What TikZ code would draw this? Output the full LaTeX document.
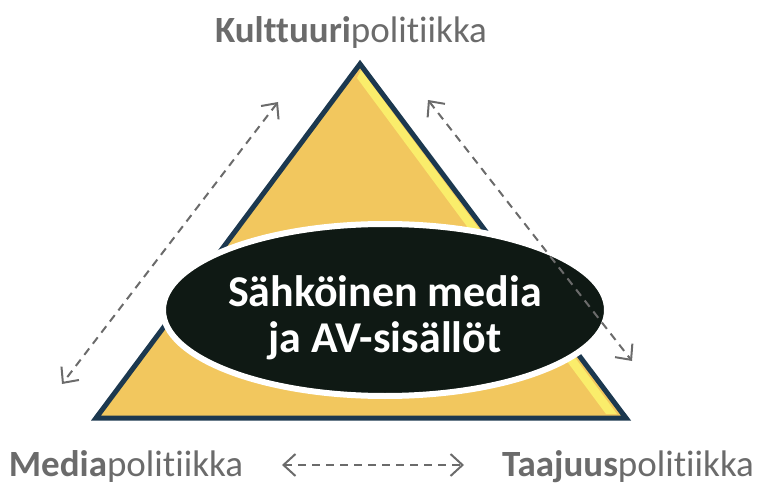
\documentclass[tikz,border=0pt]{standalone}
\usepackage{fontspec}
\setmainfont{Carlito}[Ligatures = NoCommon]
\usepackage{tikz}
\usetikzlibrary{arrows.meta}
\usetikzlibrary{shapes.geometric}
\tikzset{label/.style = {text = labelgray, inner sep = 0, anchor = base}}
\tikzset{relation/.style = {draw = arrowgray, line width = 2, dash pattern = on 8pt off 6pt, {Straight Barb[length=12pt, width=22pt]}-{Straight Barb[length=12pt, width=22pt]}}}
\definecolor{labelgray}{rgb}{0.42, 0.42, 0.42}
\definecolor{arrowgray}{rgb}{0.42, 0.42, 0.42}
\definecolor{mgold}{rgb}{0.95, 0.78, 0.37}
\definecolor{mlight}{rgb}{0.98, 0.93, 0.42}
\definecolor{mnavy}{rgb}{0.11, 0.22, 0.31}
\definecolor{mdark}{rgb}{0.06, 0.1, 0.08}

\begin{document}
\begin{tikzpicture}[x = 1pt, y = -1pt]
      \useasboundingbox (0, 0) rectangle (761, 484);
      % triangle
      \coordinate (top) at (360, 64);
      \coordinate (left) at (96, 418);
      \coordinate (right) at (626, 418);
      \fill [mgold] (top) -- (right) -- (left) -- cycle;
      \fill [mlight] (361, 70) -- (617, 414) -- (606, 414) -- (357, 78) -- cycle;
      \draw [mnavy, line width = 5, line join = miter] (top) -- (right) -- (left) -- cycle;
      % centre
      \node [draw = white, line width = 6, fill = mdark, ellipse, minimum width = 444, minimum height = 172] (core) at (385, 310) {};
      \node [text = white, align = center, font = \fontsize{44}{46}\selectfont\bfseries] (coretext) at (385, 318) {Sähköinen media\\ja AV-sisällöt};
      % labels
      \foreach \name/\x/\y/\bold in {kultt/351/43/Kulttuuri, media/126/476/Media, taaj/628/476/Taajuus} {
        \node [label, font = \fontsize{37}{44}\selectfont] (\name) at (\x, \y) {\textbf{\bold}politiikka};
      }
      % arrows
      \coordinate (a1) at (278, 102);
      \coordinate (a2) at (62, 384);
      \coordinate (b1) at (428, 100);
      \coordinate (b2) at (632, 361);
      \coordinate (c1) at (282, 465);
      \coordinate (c2) at (464, 465);
      \draw [relation] (a1) -- (a2);
      \draw [relation] (b1) -- (b2);
      \draw [relation] (c1) -- (c2);
    \end{tikzpicture}
\end{document}
